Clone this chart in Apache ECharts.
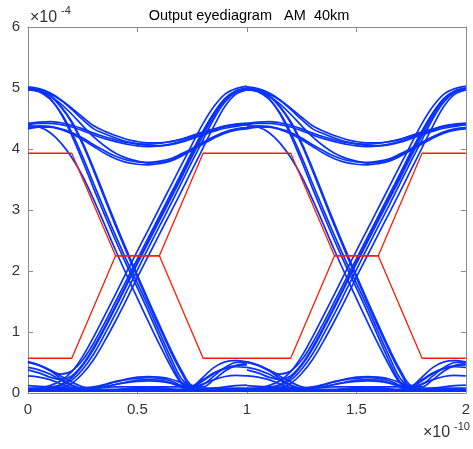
<!DOCTYPE html>
<html>
<head>
<meta charset="utf-8">
<script src="https://cdn.jsdelivr.net/npm/echarts@6/dist/echarts.min.js"></script>
<style>html,body{margin:0;padding:0;background:#fff;width:100%;height:100%;overflow:hidden}#c{position:fixed;left:0;top:0;width:473px;height:449px}</style>
</head>
<body>
<div id="c"></div>
<script>
// ---- data (x in units of 1e-10 s, y in units of 1e-4) ----
const xTickLabels = ['0', '0.5', '1', '1.5', '2'];
const yTickLabels = ['0', '1', '2', '3', '4', '5', '6'];

// sample positions inside each unit interval
const xUI1 = [0,0.05,0.1,0.15,0.2,0.25,0.3,0.35,0.4,0.45,0.5,0.55,0.6,0.65,0.7,0.75,0.8,0.85,0.9,0.95,1];
const xUI2 = [1,1.05,1.1,1.15,1.2,1.25,1.3,1.35,1.4,1.45,1.5,1.55,1.6,1.65,1.7,1.75,1.8,1.85,1.9,1.95,2];

// rising edges
const Rc  = [0.05,0.06,0.09,0.14,0.25,0.45,0.72,1.05,1.4,1.76,2.12,2.47,2.82,3.17,3.52,3.88,4.22,4.55,4.8,4.95,5.0];
const Rl  = [0.06,0.08,0.12,0.2,0.35,0.6,0.92,1.27,1.62,1.98,2.33,2.68,3.03,3.38,3.73,4.08,4.42,4.7,4.9,4.99,5.03];
const Rr  = [0.03,0.04,0.06,0.09,0.16,0.32,0.55,0.85,1.18,1.53,1.9,2.25,2.6,2.95,3.3,3.66,4.02,4.38,4.7,4.9,4.97];
const Rm  = [0.04,0.05,0.08,0.12,0.21,0.39,0.64,0.96,1.3,1.66,2.02,2.38,2.73,3.08,3.44,3.8,4.15,4.5,4.77,4.93,4.98];
const Rh  = [0.51,0.45,0.37,0.31,0.36,0.54,0.82,1.15,1.5,1.85,2.2,2.55,2.9,3.25,3.6,3.96,4.3,4.6,4.83,4.95,4.99];
const Rh2 = [0.38,0.33,0.26,0.22,0.28,0.47,0.75,1.08,1.43,1.79,2.15,2.5,2.86,3.2,3.56,3.92,4.27,4.58,4.82,4.95,5.0];

// falling edges
const Fc  = [5.0,4.96,4.83,4.58,4.22,3.8,3.35,2.92,2.5,2.1,1.72,1.33,0.92,0.52,0.18,0.06,0.04,0.03,0.03,0.03,0.03];
const Fc2 = [4.97,4.94,4.82,4.6,4.27,3.87,3.43,3.0,2.58,2.18,1.8,1.41,1.0,0.6,0.24,0.08,0.04,0.03,0.03,0.03,0.03];
const Fm  = [4.38,4.36,4.27,4.1,3.86,3.55,3.17,2.76,2.34,1.94,1.55,1.17,0.8,0.45,0.16,0.06,0.04,0.03,0.03,0.03,0.03];
const Fr  = [4.99,4.97,4.88,4.7,4.45,4.1,3.68,3.23,2.78,2.35,1.93,1.52,1.12,0.73,0.38,0.12,0.1,0.22,0.36,0.45,0.48];
const Fr2 = [4.98,4.96,4.87,4.69,4.43,4.07,3.64,3.19,2.74,2.31,1.89,1.48,1.08,0.69,0.34,0.1,0.14,0.28,0.42,0.5,0.51];

// high level (1 -> 1)
const Mpk  = [5.0,4.97,4.9,4.8,4.65,4.48,4.33,4.25,4.18,4.12,4.08,4.06,4.05,4.07,4.11,4.17,4.23,4.29,4.34,4.37,4.4];
const Mpk2 = [5.02,4.99,4.92,4.81,4.67,4.52,4.38,4.29,4.22,4.16,4.12,4.1,4.1,4.12,4.16,4.21,4.27,4.32,4.37,4.4,4.42];
const Mpkd = [4.97,4.95,4.87,4.74,4.57,4.38,4.2,4.05,3.93,3.85,3.8,3.77,3.78,3.82,3.9,4.0,4.1,4.2,4.27,4.32,4.35];
const Mf   = [4.4,4.42,4.42,4.4,4.36,4.3,4.23,4.17,4.12,4.08,4.05,4.04,4.05,4.08,4.13,4.19,4.25,4.31,4.36,4.39,4.4];
const Mf2  = [4.42,4.44,4.45,4.43,4.39,4.33,4.26,4.2,4.15,4.11,4.09,4.08,4.09,4.12,4.16,4.22,4.28,4.33,4.38,4.41,4.42];
const Md   = [4.33,4.36,4.36,4.32,4.25,4.15,4.04,3.93,3.84,3.78,3.75,3.74,3.76,3.8,3.88,3.98,4.08,4.18,4.26,4.31,4.33];
const Md2  = [4.35,4.38,4.37,4.33,4.27,4.18,4.07,3.97,3.88,3.82,3.79,3.78,3.8,3.84,3.92,4.01,4.11,4.2,4.28,4.33,4.35];

// low level (0 -> 0)
const L0   = [0.03,0.03,0.03,0.03,0.03,0.03,0.04,0.05,0.05,0.05,0.05,0.05,0.05,0.05,0.04,0.04,0.03,0.03,0.03,0.03,0.03];
const L1   = [0.08,0.08,0.07,0.07,0.07,0.07,0.08,0.09,0.1,0.1,0.1,0.1,0.1,0.1,0.1,0.09,0.08,0.08,0.08,0.08,0.08];
const L2   = [0.12,0.11,0.1,0.09,0.08,0.07,0.06,0.06,0.06,0.07,0.07,0.07,0.07,0.06,0.05,0.05,0.06,0.08,0.1,0.12,0.13];
const La   = [0.04,0.04,0.04,0.04,0.04,0.05,0.08,0.13,0.18,0.22,0.24,0.25,0.24,0.2,0.12,0.05,0.03,0.03,0.03,0.03,0.03];
const La2  = [0.05,0.05,0.05,0.05,0.05,0.06,0.07,0.1,0.14,0.17,0.19,0.2,0.19,0.16,0.1,0.06,0.04,0.04,0.04,0.04,0.05];
const La3  = [0.06,0.06,0.06,0.06,0.07,0.08,0.1,0.14,0.19,0.23,0.26,0.27,0.26,0.23,0.17,0.1,0.06,0.05,0.05,0.05,0.05];
const Lhl  = [0.51,0.46,0.37,0.24,0.13,0.07,0.04,0.04,0.04,0.05,0.06,0.06,0.06,0.05,0.05,0.04,0.04,0.03,0.03,0.03,0.03];
const Lhl2 = [0.42,0.38,0.31,0.21,0.12,0.06,0.04,0.04,0.05,0.07,0.09,0.1,0.09,0.07,0.05,0.04,0.03,0.03,0.03,0.03,0.03];
const Lhl3 = [0.28,0.26,0.22,0.15,0.09,0.05,0.03,0.03,0.03,0.03,0.03,0.03,0.03,0.03,0.03,0.03,0.03,0.03,0.03,0.03,0.03];
const Llh  = [0.03,0.03,0.03,0.04,0.05,0.05,0.05,0.05,0.05,0.05,0.05,0.05,0.05,0.05,0.06,0.1,0.26,0.42,0.51,0.53,0.51];
const Llh2 = [0.04,0.04,0.04,0.04,0.05,0.05,0.05,0.05,0.05,0.05,0.05,0.05,0.05,0.05,0.06,0.09,0.2,0.32,0.4,0.43,0.42];
const Llh3 = [0.03,0.03,0.03,0.03,0.03,0.03,0.03,0.03,0.03,0.03,0.03,0.03,0.03,0.04,0.05,0.08,0.15,0.22,0.27,0.29,0.28];
const Lhh  = [0.5,0.46,0.38,0.28,0.18,0.1,0.08,0.1,0.14,0.18,0.21,0.22,0.21,0.17,0.12,0.12,0.22,0.33,0.41,0.45,0.46];

const traces = [Rc,Rl,Rr,Rm,Rh,Rh2,Fc,Fc2,Fm,Fr,Fr2,Mpk,Mpk2,Mpkd,Mf,Mf2,Md,Md2,L0,L1,L2,La,La2,La3,Lhl,Lhl2,Lhl3,Llh,Llh2,Llh3,Lhh];

// eye mask (red)
const maskX     = [0,0.2,0.4,0.6,0.8,1.2,1.4,1.6,1.8,2];
const maskUpper = [3.93,3.93,2.25,2.25,3.93,3.93,2.25,2.25,3.93,3.93];
const maskLower = [0.57,0.57,2.25,2.25,0.57,0.57,2.25,2.25,0.57,0.57];

// ---- chart ----
const chart = echarts.init(document.getElementById('c'), null, {renderer: 'canvas', width: 473, height: 449});
const FONT = 'Liberation Sans, Arial, Helvetica, sans-serif';
const AXC = '#8a8a8a';
const LBC = '#333333';
const BLUE = '#0a32ff';

const series = [];
[xUI1, xUI2].forEach(xs => {
  traces.forEach(t => {
    series.push({
      type: 'line', xAxisIndex: 0, yAxisIndex: 0,
      data: xs.map((x, i) => [x, t[i]]),
      showSymbol: false, smooth: 0.35, silent: true,
      lineStyle: {color: BLUE, width: 1.7}, z: 2
    });
  });
});
[maskUpper, maskLower].forEach(m => {
  series.push({
    type: 'line', xAxisIndex: 0, yAxisIndex: 0,
    data: maskX.map((x, i) => [x, m[i]]),
    showSymbol: false, silent: true,
    lineStyle: {color: '#ff1a00', width: 1.3}, z: 5
  });
});

const axBase = {
  axisLine: {show: true, onZero: false, lineStyle: {color: AXC, width: 1}},
  axisTick: {show: true, inside: true, length: 5, lineStyle: {color: AXC}},
  splitLine: {show: false}
};

chart.setOption({
  animation: false,
  backgroundColor: '#ffffff',
  grid: {left: 28, top: 27, width: 443, height: 366, containLabel: false},
  xAxis: [
    Object.assign({}, axBase, {
      type: 'value', min: 0, max: 2, interval: 0.5, position: 'bottom',
      axisLabel: {color: LBC, fontSize: 15, fontFamily: FONT, margin: 9,
        formatter: v => xTickLabels[Math.round(v / 0.5)]}
    }),
    Object.assign({}, axBase, {
      type: 'value', min: 0, max: 2, interval: 0.5, position: 'top',
      axisLabel: {show: false}
    })
  ],
  yAxis: [
    Object.assign({}, axBase, {
      type: 'value', min: 0, max: 6, interval: 1, position: 'left',
      axisLabel: {color: LBC, fontSize: 15, fontFamily: FONT, margin: 8,
        formatter: v => yTickLabels[Math.round(v)]}
    }),
    Object.assign({}, axBase, {
      type: 'value', min: 0, max: 6, interval: 1, position: 'right',
      axisLabel: {show: false}
    })
  ],
  graphic: [
    {type: 'text', x: 249, y: 16, silent: true,
      style: {text: 'Output eyediagram   AM  40km', fill: '#000', font: '14.5px ' + FONT,
        align: 'center', verticalAlign: 'middle'}},
    {type: 'text', x: 30, y: 18, silent: true,
      style: {text: '×10', fill: LBC, font: '16px ' + FONT, align: 'left', verticalAlign: 'middle'}},
    {type: 'text', x: 61, y: 11, silent: true,
      style: {text: '-4', fill: LBC, font: '11px ' + FONT, align: 'left', verticalAlign: 'middle'}},
    {type: 'text', x: 423, y: 433, silent: true,
      style: {text: '×10', fill: LBC, font: '16px ' + FONT, align: 'left', verticalAlign: 'middle'}},
    {type: 'text', x: 454, y: 427, silent: true,
      style: {text: '-10', fill: LBC, font: '11px ' + FONT, align: 'left', verticalAlign: 'middle'}}
  ],
  series: series
});
</script>
</body>
</html>
